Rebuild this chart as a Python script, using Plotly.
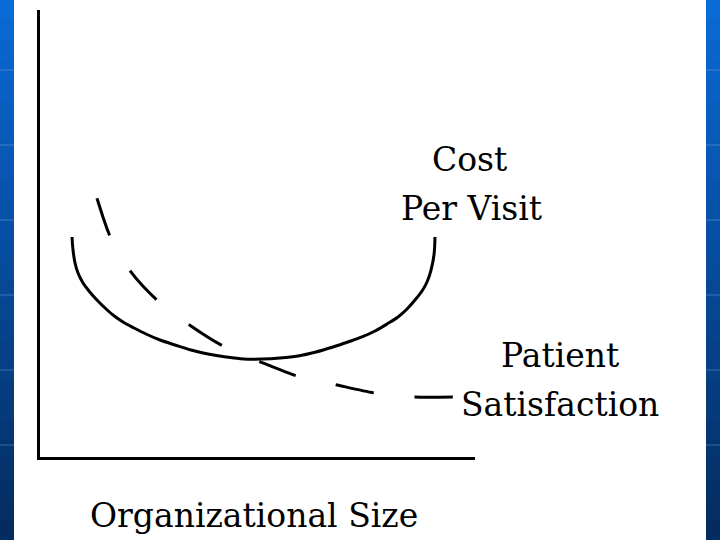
import plotly.graph_objects as go

# Cost per visit (solid U-shaped curve) — relative units
cost_x = [7.36, 7.59, 8.05, 8.74, 9.89, 11.26, 12.87, 14.71, 16.78, 19.08, 21.61, 24.37,
          27.59, 31.03, 34.71, 38.62, 42.76, 46.90, 51.03, 55.17, 59.31, 63.45, 67.36,
          70.80, 74.02, 77.01, 79.77, 82.30, 84.37, 86.21, 87.82, 88.97, 89.89, 90.57, 90.80]
cost_y = [49.22, 46.31, 43.40, 41.16, 38.93, 37.14, 35.35, 33.56, 31.77, 30.20, 28.86, 27.52,
          26.17, 25.06, 23.94, 23.04, 22.37, 21.92, 21.92, 22.15, 22.60, 23.49, 24.61,
          25.73, 26.85, 28.19, 29.75, 31.32, 33.11, 35.12, 37.14, 39.15, 41.83, 45.19, 49.22]

# Patient satisfaction (dashed declining curve)
sat_x = [13.1, 16.1, 20.9, 27.1, 34.7, 42.1, 50.6, 59.1, 68.3, 77.0, 86.2, 94.9]
sat_y = [57.9, 49.4, 41.4, 34.9, 29.3, 24.8, 21.3, 18.1, 16.1, 14.3, 13.4, 13.4]

x_title = "Organizational Size"
cost_label = ["Cost", "Per Visit"]
sat_label = ["Patient", "Satisfaction"]

W, H = 720, 540
L, R, T, B = 40, 475, 10, 457  # plot area in pixels


def px_x(p):
    return (p - L) / (R - L)


def px_y(p):
    return (B - p) / (B - T)


fig = go.Figure()
fig.add_trace(go.Scatter(x=cost_x, y=cost_y, mode="lines",
                         line=dict(color="black", width=3, shape="spline", smoothing=1),
                         showlegend=False, hoverinfo="skip"))
fig.add_trace(go.Scatter(x=sat_x, y=sat_y, mode="lines",
                         line=dict(color="black", width=3, shape="spline", smoothing=0.7, dash="39px,41px"),
                         showlegend=False, hoverinfo="skip"))

shapes = []
# blue gradient side bands
top = (10, 106, 214)
bot = (4, 44, 96)
n = 27
for i in range(n):
    t = i / (n - 1)
    c = tuple(int(top[k] + (bot[k] - top[k]) * t) for k in range(3))
    col = "rgb(%d,%d,%d)" % c
    y0 = H * i / n
    y1 = H * (i + 1) / n + 1
    for (a, b) in [(0, 14), (706, 720)]:
        shapes.append(dict(type="rect", xref="paper", yref="paper", layer="below",
                           x0=px_x(a), x1=px_x(b), y0=px_y(y1), y1=px_y(y0),
                           fillcolor=col, line=dict(width=0)))
# faint grid lines in the blue bands
for gy in [70, 145, 220, 295, 370, 445]:
    for (a, b) in [(0, 14), (706, 720)]:
        shapes.append(dict(type="line", xref="paper", yref="paper", layer="below",
                           x0=px_x(a), x1=px_x(b), y0=px_y(gy), y1=px_y(gy),
                           line=dict(color="rgba(120,170,230,0.45)", width=1)))

annotations = []
font = dict(family="DejaVu Serif", size=33, color="black")
for txt, px, py in [(cost_label[0], 469, 160), (cost_label[1], 471, 208),
                    (sat_label[0], 560, 355), (sat_label[1], 560, 404),
                    (x_title, 254, 515)]:
    annotations.append(dict(text=txt, x=px_x(px), y=px_y(py), xref="paper", yref="paper",
                            xanchor="center", yanchor="middle", showarrow=False, font=font))

fig.update_layout(
    width=W, height=H,
    margin=dict(l=L, r=W - R, t=T, b=H - B, pad=0),
    paper_bgcolor="white", plot_bgcolor="rgba(0,0,0,0)",
    shapes=shapes, annotations=annotations,
    xaxis=dict(range=[0, 100], showgrid=False, zeroline=False, showticklabels=False,
               ticks="", showline=True, linecolor="black", linewidth=3),
    yaxis=dict(range=[0, 100], showgrid=False, zeroline=False, showticklabels=False,
               ticks="", showline=True, linecolor="black", linewidth=3),
)
fig.write_html("out.html", config={"displayModeBar": False},
               post_script="document.body.style.margin='0';document.body.style.overflow='hidden';")
